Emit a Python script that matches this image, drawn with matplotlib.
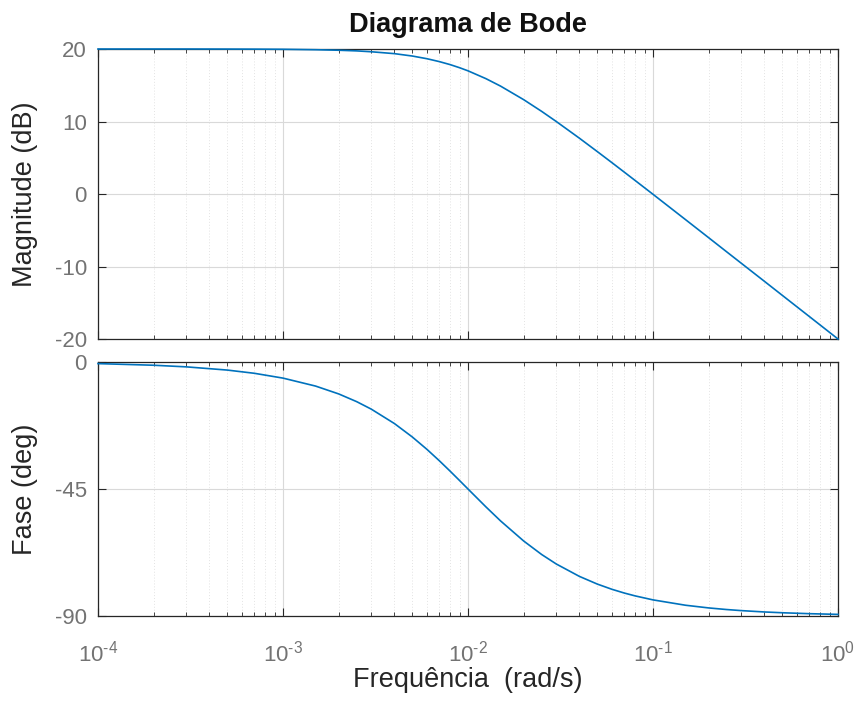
"""Bode diagram of a first-order low-pass, magnitude and phase stacked."""

import math

import matplotlib

matplotlib.use("Agg")
import matplotlib.pyplot as plt
from matplotlib.ticker import FuncFormatter, LogLocator, NullFormatter

plt.rcParams["font.family"] = ["Liberation Sans", "DejaVu Sans"]
plt.rcParams["mathtext.fontset"] = "custom"
plt.rcParams["mathtext.rm"] = "Liberation Sans"
plt.rcParams["mathtext.it"] = "Liberation Sans"
plt.rcParams["axes.unicode_minus"] = False

# Values, frequency in rad/s
freq = [1e-4, 2e-4, 3e-4, 5e-4, 7e-4, 1e-3, 1.5e-3, 2e-3, 2.5e-3, 3e-3, 4e-3,
        5e-3, 6e-3, 7e-3, 8e-3, 9e-3, 1e-2, 1.25e-2, 1.5e-2, 2e-2, 2.5e-2,
        3e-2, 4e-2, 5e-2, 6e-2, 7e-2, 8e-2, 1e-1, 1.5e-1, 2e-1, 2.5e-1,
        3e-1, 4e-1, 5e-1, 7e-1, 1.0]
magnitude_db = [20.0, 20.0, 20.0, 19.99, 19.98, 19.96, 19.90, 19.83, 19.74,
                19.62, 19.36, 19.03, 18.66, 18.26, 17.85, 17.42, 16.99, 15.91,
                14.88, 13.01, 11.40, 10.0, 7.70, 5.85, 4.32, 3.01, 1.87, -0.04,
                -3.54, -6.03, -7.97, -9.55, -12.04, -13.98, -16.90, -20.0]
phase_deg = [-0.57, -1.15, -1.72, -2.86, -4.00, -5.71, -8.53, -11.31, -14.04,
             -16.70, -21.80, -26.57, -30.96, -34.99, -38.66, -41.99, -45.0,
             -51.34, -56.31, -63.43, -68.20, -71.57, -75.96, -78.69, -80.54,
             -81.87, -82.87, -84.29, -86.19, -87.14, -87.71, -88.09, -88.57,
             -88.85, -89.18, -89.43]

LINE = (0.0, 0.447, 0.741)
TICK_SIZE = 16
LABEL_SIZE = 19.5


def decade_label(value, _):
    # MATLAB writes the exponent with a plain hyphen
    return r"$10^{\text{%d}}$" % int(round(math.log10(value)))


fig = plt.figure(figsize=(8.62, 7.02), dpi=100)
ax_mag = fig.add_axes([98 / 862, 1 - 339 / 702, 740 / 862, 290 / 702])
ax_ph = fig.add_axes([98 / 862, 1 - 616 / 702, 740 / 862, 254 / 702])

for ax in (ax_mag, ax_ph):
    ax.set_xscale("log")
    ax.set_xlim(1e-4, 1)
    ax.xaxis.set_major_locator(LogLocator(base=10, numticks=10))
    ax.xaxis.set_minor_locator(LogLocator(base=10, subs=range(2, 10), numticks=10))
    ax.xaxis.set_major_formatter(FuncFormatter(decade_label))
    ax.xaxis.set_minor_formatter(NullFormatter())
    ax.tick_params(which="both", direction="in", top=True, right=True,
                   colors="#262626", labelcolor="#737373", labelsize=TICK_SIZE)
    ax.tick_params(which="major", length=6, width=0.8)
    ax.tick_params(which="minor", length=3, width=0.6)
    ax.grid(which="major", color="#d9d9d9", linewidth=0.8)
    ax.grid(which="minor", color="#e3e3e3", linewidth=0.7, linestyle=(0, (1, 2)))
    for side in ax.spines.values():
        side.set_color("#262626")
        side.set_linewidth(0.9)
    ax.set_axisbelow(True)
    ax.tick_params(axis="y", pad=8)

ax_mag.plot(freq, magnitude_db, color=LINE, linewidth=1.2, clip_on=False, zorder=3)
ax_mag.set_ylim(-20, 20)
ax_mag.set_yticks([-20, -10, 0, 10, 20])
ax_mag.tick_params(axis="x", labelbottom=False)
ax_mag.set_ylabel("Magnitude (dB)", fontsize=LABEL_SIZE, color="#262626")
ax_mag.yaxis.set_label_coords(-0.081, 0.5)
ax_mag.set_title("Diagrama de Bode", fontsize=LABEL_SIZE, fontweight="bold",
                 color="#111111", pad=12)

ax_ph.plot(freq, phase_deg, color=LINE, linewidth=1.2, clip_on=False, zorder=3)
ax_ph.set_ylim(-90, 0)
ax_ph.set_yticks([-90, -45, 0])
ax_ph.set_ylabel("Fase (deg)", fontsize=LABEL_SIZE, color="#262626")
ax_ph.yaxis.set_label_coords(-0.081, 0.5)
ax_ph.set_xlabel("Frequência  (rad/s)", fontsize=LABEL_SIZE, color="#262626",
                 va="baseline")
ax_ph.xaxis.set_label_coords(0.5, -0.279)
ax_ph.tick_params(axis="x", pad=18)

fig.savefig("out.png", dpi=100)
